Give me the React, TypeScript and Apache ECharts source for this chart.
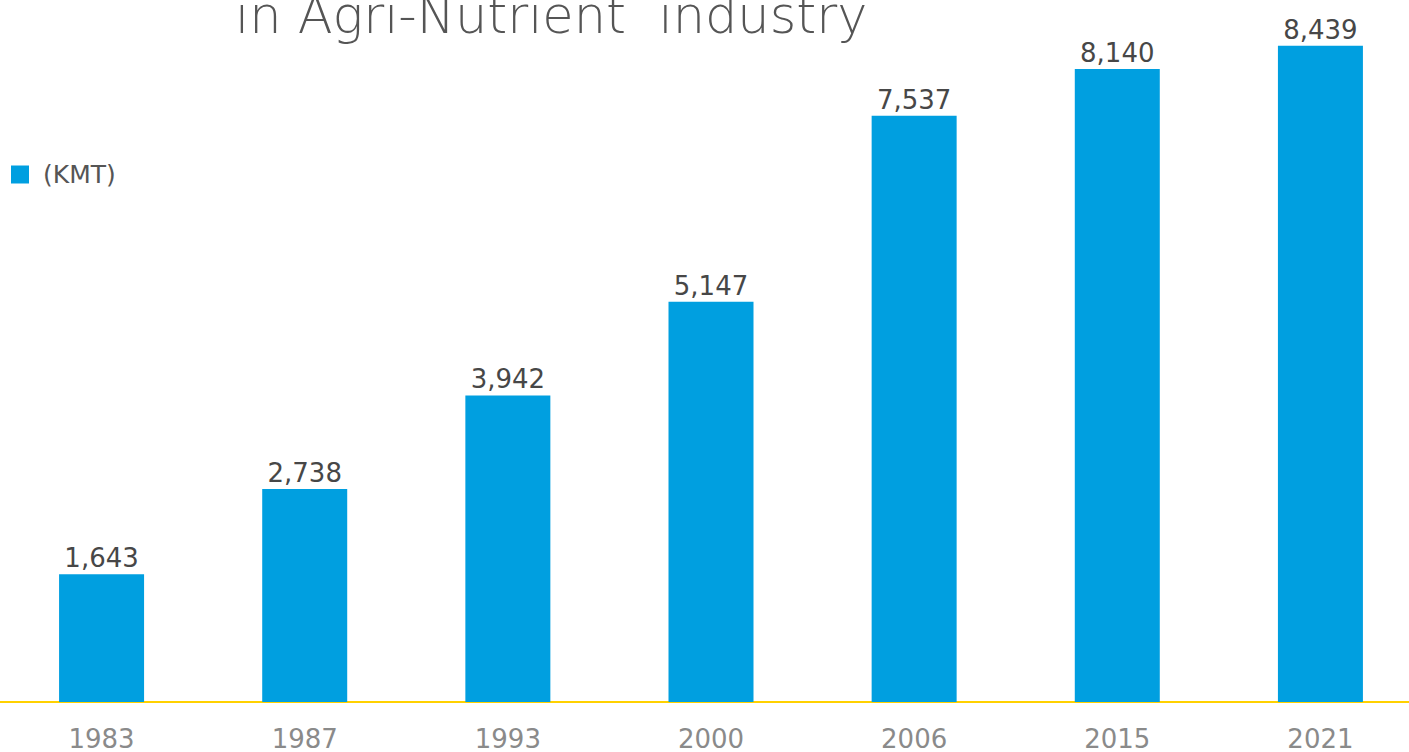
import React, { useEffect, useRef } from "react";
import * as echarts from "echarts";

const categories = ["1983", "1987", "1993", "2000", "2006", "2015", "2021"];
const values = [1643, 2738, 3942, 5147, 7537, 8140, 8439];
const seriesName = "(KMT)";
const titleText = "in Agri-Nutrient  industry";

const FONT = "DejaVu Sans";

export default function App() {
  const ref = useRef<HTMLDivElement>(null);
  useEffect(() => {
    document.body.style.margin = "0";
    document.body.style.overflow = "hidden";
    const chart = echarts.init(ref.current!, null, { renderer: "svg" });
    chart.setOption({
      animation: false,
      backgroundColor: "#ffffff",
      textStyle: { fontFamily: FONT },
      graphic: [
        {
          type: "text",
          left: 235,
          top: -10,
          style: {
            text: titleText,
            fontSize: 51,
            fontWeight: 200,
            fontFamily: FONT,
            fill: "#555555",
          },
        },
      ],
      legend: {
        left: 11,
        top: 162,
        padding: 0,
        icon: "rect",
        itemWidth: 18,
        itemHeight: 18,
        data: [seriesName],
        textStyle: {
          fontSize: 25,
          color: "#555555",
          fontFamily: FONT,
          padding: [0, 0, 0, 9],
        },
      },
      grid: { left: 0, right: 0, top: 2, height: 703, containLabel: false },
      xAxis: {
        type: "category",
        data: categories,
        axisLine: { show: true, lineStyle: { color: "#FFD100", width: 2 } },
        axisTick: { show: false },
        axisLabel: {
          margin: 24,
          fontSize: 26,
          color: "#8a8a8a",
          fontFamily: FONT,
        },
      },
      yAxis: {
        type: "value",
        min: 0,
        max: 9000,
        show: false,
        splitLine: { show: false },
      },
      series: [
        {
          name: seriesName,
          type: "bar",
          data: values,
          barWidth: 85,
          itemStyle: { color: "#009FE0" },
          label: {
            show: true,
            position: "top",
            distance: 3,
            fontSize: 26,
            color: "#474747",
            fontFamily: FONT,
            formatter: (p: any) => Number(p.value).toLocaleString("en-US"),
          },
        },
      ],
    });
    return () => chart.dispose();
  }, []);
  return (
    <div
      ref={ref}
      style={{ position: "fixed", left: 0, top: 0, width: 1422, height: 752 }}
    />
  );
}
